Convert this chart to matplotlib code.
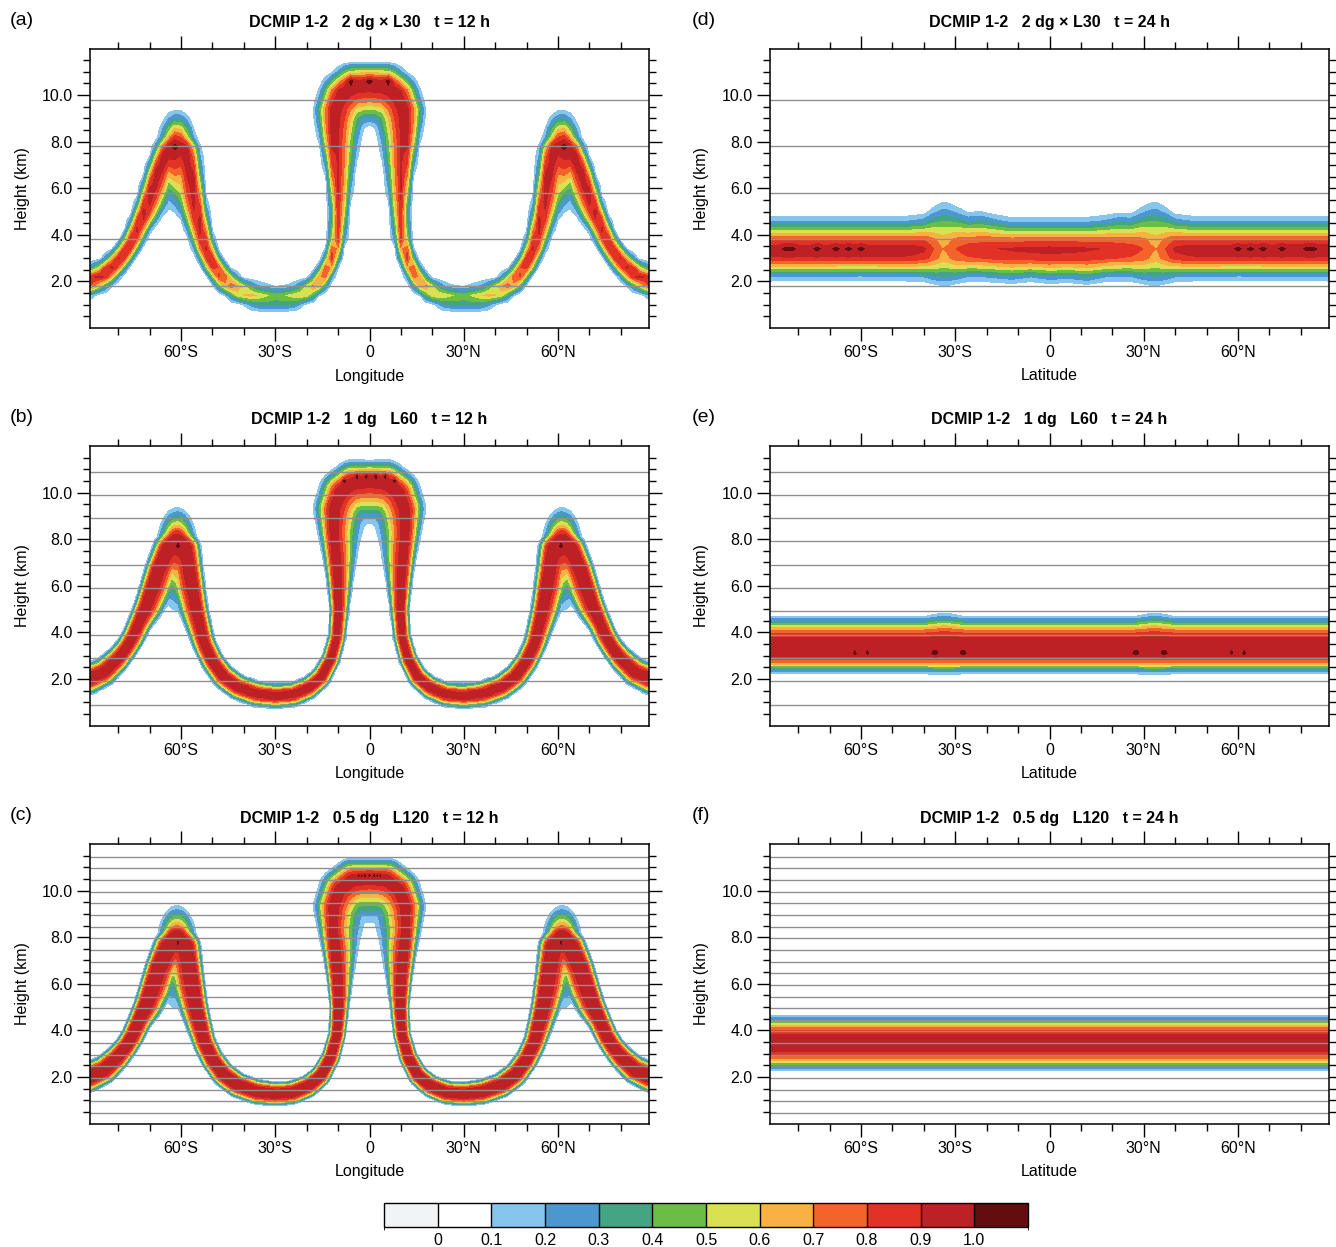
import numpy as np
import matplotlib
matplotlib.use("Agg")
import matplotlib.pyplot as plt
from matplotlib.colors import ListedColormap, BoundaryNorm
from matplotlib.cm import ScalarMappable

plt.rcParams['font.family'] = ['Liberation Sans', 'DejaVu Sans']

# ------------------------------------------------------------------ data
contour_levels = [0.0, 0.1, 0.2, 0.3, 0.4, 0.5, 0.6, 0.7, 0.8, 0.9, 1.0]
level_labels = ["0", "0.1", "0.2", "0.3", "0.4", "0.5", "0.6", "0.7", "0.8", "0.9", "1.0"]
fill_colors = ["#f2f3f5", "#ffffff", "#87c6ec", "#4a98cf", "#44a584", "#6cbd45",
               "#d9e052", "#f9b241", "#f4642a", "#e23226", "#bd2025", "#640d10"]

lon_ticks = [-60, -30, 0, 30, 60]
lon_tick_labels = ["60°S", "30°S", "0", "30°N", "60°N"]
height_ticks = [2, 4, 6, 8, 10]
height_tick_labels = ["2.0", "4.0", "6.0", "8.0", "10.0"]

titles_left = ["DCMIP 1-2   2 dg \u00d7 L30   t = 12 h",
               "DCMIP 1-2   1 dg   L60   t = 12 h",
               "DCMIP 1-2   0.5 dg   L120   t = 12 h"]
titles_right = ["DCMIP 1-2   2 dg \u00d7 L30   t = 24 h",
                "DCMIP 1-2   1 dg   L60   t = 24 h",
                "DCMIP 1-2   0.5 dg   L120   t = 24 h"]
panel_letters_left = ["(a)", "(b)", "(c)"]
panel_letters_right = ["(d)", "(e)", "(f)"]

grid_dlon = [2.0, 1.0, 0.5]        # horizontal resolution (deg)
grid_nlev = [30, 60, 120]          # vertical levels, model top 12 km

# t = 12 h tracer ribbon (west half, east half is its mirror)
rib_lon = [-96, -89, -84.5, -80.3, -77.5, -75.5, -73.4, -71.4, -69.6, -67.6, -64.5, -61.3,
           -58.2, -56.9, -55.9, -55.0, -53.9, -52.5, -50.0, -46.5, -42, -36, -30, -24.5,
           -19.5, -15.5, -12.3, -10.4, -10.0, -10.4, -10.9, -11.5, -11.2, -9.3, -5.5, 0]
rib_z = [1.70, 2.02, 2.30, 2.83, 3.30, 3.78, 4.45, 5.15, 5.90, 6.70, 7.60, 8.00,
         7.60, 6.70, 5.90, 5.10, 4.35, 3.50, 2.75, 2.10, 1.65, 1.36, 1.27, 1.33,
         1.60, 2.05, 2.85, 3.80, 5.00, 6.20, 7.20, 8.30, 9.30, 10.00, 10.42, 10.52]
# distance to the 0.1 contour on the upper/outer side and the lower/inner side (km)
rib_edge_up = [0.68, 0.66, 0.62, 0.56, 0.52, 0.50, 0.50, 0.50, 0.52, 0.56, 0.65, 0.75,
               0.65, 0.56, 0.52, 0.50, 0.50, 0.50, 0.52, 0.54, 0.54, 0.53, 0.52, 0.50,
               0.48, 0.45, 0.41, 0.38, 0.37, 0.45, 0.55, 0.70, 0.95, 1.00, 0.98, 0.85]
rib_edge_dn = [0.68, 0.66, 0.62, 0.56, 0.52, 0.55, 0.60, 0.85, 1.00, 1.00, 1.00, 1.00,
               1.00, 1.00, 1.00, 0.85, 0.70, 0.55, 0.52, 0.54, 0.54, 0.53, 0.52, 0.50,
               0.48, 0.45, 0.41, 0.40, 0.50, 0.75, 1.00, 1.30, 1.50, 1.65, 1.80, 1.88]
# where the profile loses its flat core (0 = flank profile, 1 = tip profile)
rib_tip = [0, 0, 0, 0, 0, 0, 0, 0, 0, 0, 0, 0,
           0, 0, 0, 0, 0, 0, 0, 0, 0, 0, 0, 0,
           0, 0, 0, 0, 0, 0.3, 0.6, 1.0, 1.0, 1.0, 1.0, 1.0]
rib_amp_a = [0.93, 0.93, 0.94, 0.94, 0.93, 0.93, 0.94, 0.95, 0.96, 0.97, 0.975, 0.98,
             0.975, 0.97, 0.96, 0.95, 0.94, 0.93, 0.90, 0.84, 0.72, 0.60, 0.48, 0.55,
             0.66, 0.78, 0.85, 0.88, 0.89, 0.92, 0.94, 0.96, 0.965, 0.97, 0.975, 0.975]
rib_amp_b = [0.975] * 36
rib_amp_c = [0.978] * 36
rib_shape = [1.0, 1.4, 1.6]            # flank profile exponent per panel
rib_shape_tip_up = [1.0, 1.05, 1.1]
rib_shape_tip_dn = [0.95, 0.82, 0.72]

# dome of each side peak (west one; the east one is its mirror)
cap_lon = [-61.3]
cap_z = [7.70]
cap_half_width_up = [6.3]  # deg, above the core height
cap_half_width_dn = [7.0]  # deg, below the core height
cap_up = [1.65]            # km above the core to the 0.1 contour
cap_dn = [2.75]            # km below the core to the 0.1 contour
cap_amp = [0.975, 0.972, 0.975]

# overshoot points (> 1.0)
spot_lon_a = [-6, 0, 6, -62, 62]
spot_z_a = [10.6, 10.6, 10.6, 7.8, 7.8]
spot_lon_b = [-8, -4, -1, 2, 5, 8, -61, 61]
spot_z_b = [10.5, 10.7, 10.7, 10.7, 10.7, 10.5, 7.7, 7.7]
spot_lon_c = [-3.5, -2.5, -1.5, 0, 1.5, 2.5, 3.5, -61, 61]
spot_z_c = [10.65, 10.65, 10.65, 10.65, 10.65, 10.65, 10.65, 7.75, 7.75]

# t = 24 h tracer band: 0.1-contour heights, core height and core value vs latitude
band_lat_d = [-90, -60, -45, -40, -37, -33.5, -30, -26, -22, -18, -12, -6, 0,
              6, 12, 18, 22, 26, 30, 33.5, 37, 40, 45, 60, 90]
band_top_d = [4.72, 4.72, 4.75, 4.85, 5.15, 5.45, 5.20, 4.95, 5.00, 4.85, 4.68, 4.68, 4.70,
              4.68, 4.70, 4.80, 4.92, 4.90, 5.20, 5.45, 5.15, 4.85, 4.75, 4.72, 4.75]
band_bot_d = [2.08, 2.10, 2.08, 2.05, 1.92, 1.80, 1.92, 2.05, 2.05, 2.02, 1.95, 2.05, 1.95,
              2.00, 1.90, 2.05, 2.05, 2.05, 1.92, 1.80, 1.92, 2.05, 2.08, 2.10, 2.08]
band_mid_d = [3.30] * 25
band_amp_d = [0.975, 0.975, 0.97, 0.93, 0.80, 0.68, 0.80, 0.86, 0.87, 0.90, 0.92, 0.935, 0.94,
              0.935, 0.92, 0.90, 0.87, 0.86, 0.80, 0.68, 0.80, 0.93, 0.97, 0.975, 0.975]

band_lat_e = [-90, -40, -33.5, -27, 27, 33.5, 40, 90]
band_top_e = [4.68, 4.68, 4.82, 4.68, 4.68, 4.82, 4.68, 4.68]
band_bot_e = [2.24, 2.24, 2.20, 2.24, 2.24, 2.20, 2.24, 2.24]
band_mid_e = [3.34, 3.34, 3.34, 3.34, 3.34, 3.34, 3.34, 3.34]
band_amp_e = [0.975, 0.975, 0.975, 0.975, 0.975, 0.975, 0.975, 0.975]

band_lat_f = [-90, 90]
band_top_f = [4.64, 4.64]
band_bot_f = [2.27, 2.27]
band_mid_f = [3.45, 3.45]
band_amp_f = [0.975, 0.975]
band_shape = [1.0, 1.4, 1.35]

spot_lat_d = [-84, -82, -74, -68, -64, -60, 60, 64, 68, 74, 82, 84]
spot_z_d = [3.4] * 12
spot_lat_e = [-37, -36, -28, -27, 27, 28, 36, 37, -62, -58, 58, 62]
spot_z_e = [3.1] * 12

# ------------------------------------------------------------------ helpers
K = 7.0  # degrees per km used as the isotropic scale for the ribbon


def profile(r, p):
    r = np.clip(r, 0.0, 1.0)
    return 0.5 * (1.0 + np.cos(np.pi * r ** p))


def r_of_level(amp, p, level=0.1):
    c = np.clip(2.0 * level / np.asarray(amp) - 1.0, -1, 1)
    return (np.arccos(c) / np.pi) ** (1.0 / np.asarray(p))


def mirror(a, negate=False):
    a = np.asarray(a, float)
    b = a[-2::-1]
    return np.concatenate([a, -b if negate else b])


def ribbon_field(lon_g, z_g, amp_half, p, p_tip_up, p_tip_dn):
    L = mirror(rib_lon, True) / K
    Zc = mirror(rib_z)
    seg = np.hypot(np.diff(L), np.diff(Zc))
    s = np.concatenate([[0.0], np.cumsum(seg)])
    n = int(s[-1] / 0.02)
    ss = np.linspace(0, s[-1], n)

    def along_curve(a):
        return np.interp(ss, s, mirror(a))

    xs = np.interp(ss, s, L)
    zs = np.interp(ss, s, Zc)
    ea = along_curve(rib_edge_up)
    eb = along_curve(rib_edge_dn)
    tip = along_curve(rib_tip)
    am = along_curve(amp_half)
    pa = p + (p_tip_up - p) * tip
    pb = p + (p_tip_dn - p) * tip
    la = np.minimum(ea, eb)
    ra = r_of_level(am, pa)
    rb = r_of_level(am, pb)
    tx = np.gradient(xs)
    tz = np.gradient(zs)
    tn = np.hypot(tx, tz)
    tx, tz = tx / tn, tz / tn
    nx, nz = -tz, tx
    X = lon_g / K
    q = np.zeros((len(z_g), len(lon_g)))
    for i in range(n):
        ext = max(ea[i], eb[i], la[i])
        j0, j1 = np.searchsorted(X, [xs[i] - ext, xs[i] + ext])
        k0, k1 = np.searchsorted(z_g, [zs[i] - ext, zs[i] + ext])
        if j1 <= j0 or k1 <= k0:
            continue
        dx = X[None, j0:j1] - xs[i]
        dz = z_g[k0:k1, None] - zs[i]
        al = dx * tx[i] + dz * tz[i]
        ac = dx * nx[i] + dz * nz[i]
        up = ac >= 0
        e = np.where(up, ea[i], eb[i])
        sn = np.sqrt((al / la[i]) ** 2 + (ac / e) ** 2)
        r = sn * np.where(up, ra[i], rb[i])
        qi = am[i] * profile(r, np.where(up, pa[i], pb[i]))
        sub = q[k0:k1, j0:j1]
        np.maximum(sub, qi, out=sub)
    return q


def add_caps(q, lon_g, z_g, amp, p_up, p_dn):
    ra = r_of_level(amp, p_up)
    rb = r_of_level(amp, p_dn)
    for sign in (1, -1):
        for lo, zc, hu, hd, eu, ed in zip(cap_lon, cap_z, cap_half_width_up,
                                          cap_half_width_dn, cap_up, cap_dn):
            dz = z_g[:, None] - zc
            up = dz >= 0
            dx = (lon_g[None, :] - sign * lo) / np.where(up, hu, hd)
            sn = np.sqrt(dx ** 2 + (dz / np.where(up, eu, ed)) ** 2)
            r = sn * np.where(up, ra, rb)
            qi = amp * profile(r, np.where(up, p_up, p_dn))
            np.maximum(q, qi, out=q)


def band_field(lon_g, z_g, lat, mid, top, bot, amp, p):
    m = np.interp(lon_g, lat, mid)
    t = np.interp(lon_g, lat, top)
    b = np.interp(lon_g, lat, bot)
    a = np.interp(lon_g, lat, amp)
    r01 = r_of_level(a, p)
    wu = (t - m) / r01
    wd = (m - b) / r01
    dz = z_g[:, None] - m[None, :]
    r = np.where(dz >= 0, dz / wu[None, :], -dz / wd[None, :])
    return a[None, :] * profile(r, p)


def add_spots(q, lon_g, z_g, lons, zs, val=1.035):
    for lo, zz in zip(lons, zs):
        j = np.argmin(np.abs(lon_g - lo))
        k = np.argmin(np.abs(z_g - zz))
        q[k, j] = max(q[k, j], val)


# ------------------------------------------------------------------ figure
W, H = 1336, 1247
fig = plt.figure(figsize=(W / 100, H / 100), dpi=100)

col_x = [90, 770]
ax_w = 559
row_top = [48.5, 446.0, 844.0]
ax_h = 279.5

fs = 11.5


def fx(px):
    return px / W


def fy(py):
    return 1 - py / H


spots_left = [(spot_lon_a, spot_z_a), (spot_lon_b, spot_z_b), (spot_lon_c, spot_z_c)]
amps_left = [rib_amp_a, rib_amp_b, rib_amp_c]
bands = [(band_lat_d, band_mid_d, band_top_d, band_bot_d, band_amp_d),
         (band_lat_e, band_mid_e, band_top_e, band_bot_e, band_amp_e),
         (band_lat_f, band_mid_f, band_top_f, band_bot_f, band_amp_f)]
spots_right = [(spot_lat_d, spot_z_d), (spot_lat_e, spot_z_e), ([], [])]

for row in range(3):
    dlon = grid_dlon[row]
    nlev = grid_nlev[row]
    dz = 12.0 / nlev
    lon_g = np.arange(-90, 90 + dlon / 2, dlon)
    z_g = (np.arange(nlev) + 0.5) * dz
    level_lines = [z for i, z in enumerate(z_g) if i % 5 == 4 and z < 11.5]

    q_left = ribbon_field(lon_g, z_g, amps_left[row], rib_shape[row],
                          rib_shape_tip_up[row], rib_shape_tip_dn[row])
    add_caps(q_left, lon_g, z_g, cap_amp[row], rib_shape_tip_up[row], rib_shape_tip_dn[row])
    add_spots(q_left, lon_g, z_g, *spots_left[row])
    lat, mid, top, bot, amp = bands[row]
    q_right = band_field(lon_g, z_g, lat, mid, top, bot, amp, band_shape[row])
    add_spots(q_right, lon_g, z_g, *spots_right[row])

    for col, (q, title, letter, xl) in enumerate([
            (q_left, titles_left[row], panel_letters_left[row], "Longitude"),
            (q_right, titles_right[row], panel_letters_right[row], "Latitude")]):
        x0 = col_x[col]
        y0 = row_top[row]
        ax = fig.add_axes([fx(x0), fy(y0 + ax_h), fx(ax_w), ax_h / H])
        ax.contourf(lon_g, z_g, q, levels=contour_levels + [5.0],
                    colors=fill_colors[1:], zorder=1)
        for z in level_lines:
            ax.axhline(z, color="#8f8f8f", lw=1.0, zorder=2)
        ax.set_xlim(-89, 89)
        ax.set_ylim(0, 12)
        ax.set_xticks(lon_ticks)
        ax.set_xticklabels(lon_tick_labels)
        ax.set_xticks(np.arange(-80, 81, 10), minor=True)
        ax.set_yticks(height_ticks)
        ax.set_yticklabels(height_tick_labels)
        ax.set_yticks(np.arange(0.5, 12.0, 0.5), minor=True)
        ax.tick_params(which="both", direction="out", top=True, right=True,
                       width=1.0, labelsize=fs, colors="black")
        ax.tick_params(which="major", length=9.5, pad=3)
        ax.tick_params(which="minor", length=5)
        for sp in ax.spines.values():
            sp.set_linewidth(1.1)
            sp.set_zorder(5)

        cx = x0 + ax_w / 2
        fig.text(fx(cx), fy(y0 - 26), title, ha="center", va="center",
                 fontsize=fs, fontweight="bold")
        fig.text(fx(x0 - 80 + (2 if col else 0)), fy(y0 - 28), letter,
                 ha="left", va="center", fontsize=14)
        fig.text(fx(cx), fy(y0 + ax_h + 48), xl, ha="center", va="center", fontsize=fs)
        fig.text(fx(x0 - 68), fy(y0 + ax_h / 2), "Height (km)", rotation=90,
                 ha="center", va="center", fontsize=fs)

# ------------------------------------------------------------------ colour bar
cax = fig.add_axes([fx(384), fy(1227), fx(644), 24 / H])
bounds = [-0.1] + contour_levels + [1.1]
cmap = ListedColormap(fill_colors)
norm = BoundaryNorm(bounds, cmap.N)
cb = fig.colorbar(ScalarMappable(norm=norm, cmap=cmap), cax=cax,
                  orientation="horizontal", boundaries=bounds, ticks=contour_levels,
                  drawedges=True, spacing="uniform")
cb.ax.set_xticklabels(level_labels)
cb.ax.tick_params(length=0, labelsize=fs, pad=4)
cb.outline.set_linewidth(1.0)
cb.dividers.set_linewidth(1.0)
cb.dividers.set_color("black")

fig.savefig("out.png", dpi=100)
